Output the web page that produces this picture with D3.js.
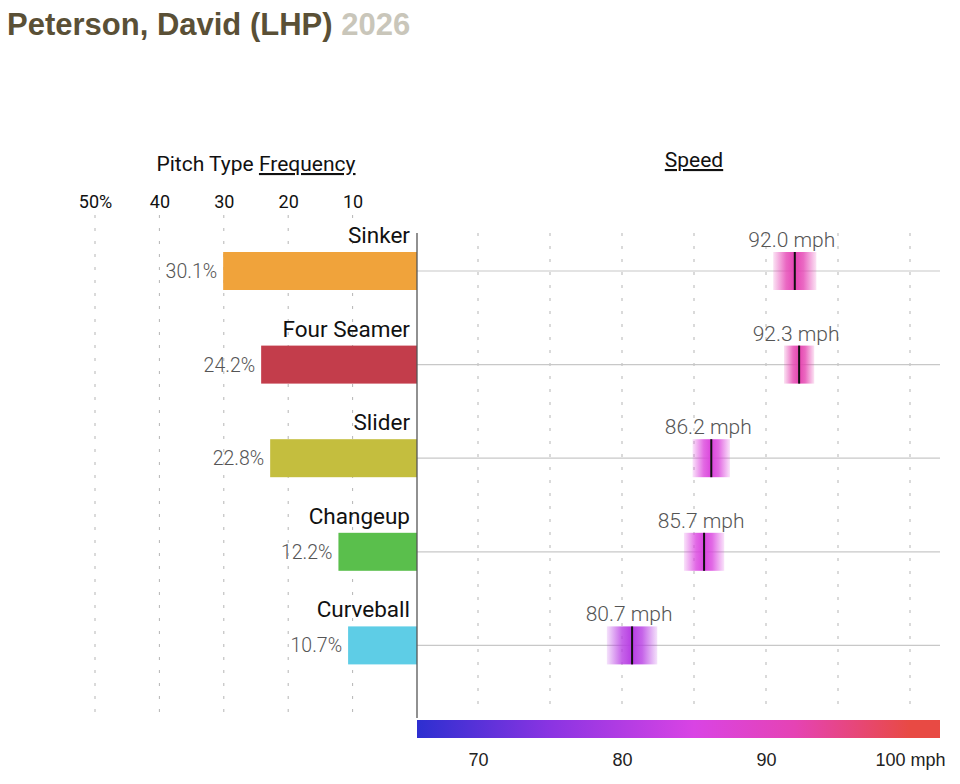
<!DOCTYPE html>
<html>
<head>
<meta charset="utf-8">
<script src="https://cdn.jsdelivr.net/npm/d3@7"></script>
<style>
  body { margin: 0; background: #fff; }
  svg { display: block; }
</style>
</head>
<body>
<svg width="960" height="784"></svg>
<script>
// data
var pitches = ["Sinker", "Four Seamer", "Slider", "Changeup", "Curveball"];
var frequency = [30.1, 24.2, 22.8, 12.2, 10.7];
var speed = [92.0, 92.3, 86.2, 85.7, 80.7];
var spread = [1.5, 1.05, 1.3, 1.4, 1.75]; // +/- mph of the shaded band
var barColors = ["#f0a33b", "#c33d4b", "#c4be3e", "#5abf4c", "#5ecde6"];
var freqTicks = [10, 20, 30, 40, 50];
var speedTicks = [70, 80, 90, 100];
var speedGrid = [70, 75, 80, 85, 90, 95, 100];

var svg = d3.select("svg");
var labelFont = "Roboto, 'Open Sans', sans-serif";

// title
var title = svg.append("text")
  .attr("x", 7)
  .attr("y", 35)
  .attr("font-family", "'Liberation Sans', Arial, sans-serif")
  .attr("font-weight", "bold")
  .attr("font-size", "31px");
title.append("tspan").attr("fill", "#5a5036").text("Peterson, David (LHP) ");
title.append("tspan").attr("fill", "#c9c6ba").text("2026");

// scales
var xFreq = d3.scaleLinear().domain([0, 50]).range([417, 95]);
var xSpeed = d3.scaleLinear().domain([70, 100]).range([478, 910]);
var speedMin = xSpeed.invert(417), speedMax = xSpeed.invert(940);
var y = d3.scaleBand().domain(pitches).range([214, 214 + 5 * 93.6]);
var colorScale = d3.scaleLinear()
  .domain([65, 75, 85, 92, 100])
  .range(["#2d2fd0", "#8a34e2", "#d944e4", "#e543b4", "#e84a44"]);

var rows = pitches.map(function(p, i) {
  return {name: p, freq: frequency[i], speed: speed[i], spread: spread[i], color: barColors[i]};
});

// headers
var h1 = svg.append("text")
  .attr("x", 256).attr("y", 171)
  .attr("text-anchor", "middle")
  .attr("font-family", labelFont)
  .attr("font-size", "21px")
  .attr("fill", "#111");
h1.append("tspan").text("Pitch Type ");
h1.append("tspan").attr("text-decoration", "underline").text("Frequency");

svg.append("text")
  .attr("x", 694).attr("y", 167)
  .attr("text-anchor", "middle")
  .attr("font-family", labelFont)
  .attr("font-size", "21px")
  .attr("fill", "#111")
  .attr("text-decoration", "underline")
  .text("Speed");

// dotted grid lines
svg.append("g").selectAll("line")
  .data(freqTicks)
  .enter().append("line")
  .attr("x1", function(d) { return xFreq(d); })
  .attr("x2", function(d) { return xFreq(d); })
  .attr("y1", 215).attr("y2", 716)
  .attr("stroke", "#b5b5b5")
  .attr("stroke-width", 1)
  .attr("stroke-dasharray", "3,10");

svg.append("g").selectAll("line")
  .data(speedGrid)
  .enter().append("line")
  .attr("x1", function(d) { return xSpeed(d); })
  .attr("x2", function(d) { return xSpeed(d); })
  .attr("y1", 233).attr("y2", 714)
  .attr("stroke", "#b5b5b5")
  .attr("stroke-width", 1)
  .attr("stroke-dasharray", "3,10");

// frequency axis (top)
var fAxis = svg.append("g")
  .attr("transform", "translate(0,208)")
  .call(d3.axisTop(xFreq).tickValues(freqTicks).tickSize(0).tickPadding(0)
    .tickFormat(function(d) { return d === 50 ? "50%" : d; }));
fAxis.select(".domain").remove();
fAxis.selectAll("text")
  .attr("font-family", labelFont)
  .attr("font-size", "18px")
  .attr("fill", "#111")
  .attr("dy", 0);

// row guide lines
svg.append("g").selectAll("line")
  .data(rows)
  .enter().append("line")
  .attr("x1", 417).attr("x2", 940)
  .attr("y1", function(d) { return y(d.name) + 57; })
  .attr("y2", function(d) { return y(d.name) + 57; })
  .attr("stroke", "#c8c8c8")
  .attr("stroke-width", 1.2);

// frequency bars
svg.append("g").selectAll("rect")
  .data(rows)
  .enter().append("rect")
  .attr("x", function(d) { return xFreq(d.freq); })
  .attr("y", function(d) { return y(d.name) + 38; })
  .attr("width", function(d) { return xFreq(0) - xFreq(d.freq); })
  .attr("height", 38)
  .attr("fill", function(d) { return d.color; });

// pitch names
svg.append("g").selectAll("text")
  .data(rows)
  .enter().append("text")
  .attr("x", 410)
  .attr("y", function(d) { return y(d.name) + 29; })
  .attr("text-anchor", "end")
  .attr("font-family", labelFont)
  .attr("font-size", "22.5px")
  .attr("fill", "#111")
  .text(function(d) { return d.name; });

// percent labels
svg.append("g").selectAll("text")
  .data(rows)
  .enter().append("text")
  .attr("x", function(d) { return xFreq(d.freq) - 6; })
  .attr("y", function(d) { return y(d.name) + 64; })
  .attr("text-anchor", "end")
  .attr("font-family", labelFont)
  .attr("font-weight", 300)
  .attr("font-size", "19.5px")
  .attr("fill", "#555")
  .text(function(d) { return d.freq.toFixed(1) + "%"; });

// zero axis line
svg.append("line")
  .attr("x1", 417).attr("x2", 417)
  .attr("y1", 233).attr("y2", 718)
  .attr("stroke", "#555")
  .attr("stroke-width", 1.3);

// speed markers with soft gradient bands
var defs = svg.append("defs");
rows.forEach(function(d, i) {
  var c = colorScale(d.speed);
  var g = defs.append("linearGradient").attr("id", "band" + i);
  [[0, 0.15], [0.3, 0.8], [0.5, 1], [0.7, 0.8], [1, 0.15]].forEach(function(s) {
    g.append("stop")
      .attr("offset", s[0] * 100 + "%")
      .attr("stop-color", c)
      .attr("stop-opacity", s[1]);
  });
});

var marks = svg.append("g").selectAll("g")
  .data(rows)
  .enter().append("g");

marks.append("rect")
  .attr("x", function(d) { return xSpeed(d.speed - d.spread); })
  .attr("y", function(d) { return y(d.name) + 38; })
  .attr("width", function(d) { return xSpeed(d.speed + d.spread) - xSpeed(d.speed - d.spread); })
  .attr("height", 38)
  .attr("fill", function(d, i) { return "url(#band" + i + ")"; });

marks.append("line")
  .attr("x1", function(d) { return xSpeed(d.speed); })
  .attr("x2", function(d) { return xSpeed(d.speed); })
  .attr("y1", function(d) { return y(d.name) + 38; })
  .attr("y2", function(d) { return y(d.name) + 76; })
  .attr("stroke", "#111")
  .attr("stroke-width", 2);

marks.append("text")
  .attr("x", function(d) { return xSpeed(d.speed) - 3; })
  .attr("y", function(d) { return y(d.name) + 33; })
  .attr("text-anchor", "middle")
  .attr("font-family", labelFont)
  .attr("font-weight", 300)
  .attr("font-size", "21px")
  .attr("fill", "#555")
  .text(function(d) { return d.speed.toFixed(1) + " mph"; });

// colour legend bar
var lg = defs.append("linearGradient")
  .attr("id", "legendGrad")
  .attr("gradientUnits", "userSpaceOnUse")
  .attr("x1", 417).attr("x2", 940).attr("y1", 0).attr("y2", 0);
colorScale.domain().forEach(function(v) {
  lg.append("stop")
    .attr("offset", (xSpeed(v) - 417) / (940 - 417) * 100 + "%")
    .attr("stop-color", colorScale(v));
});
svg.append("rect")
  .attr("x", xSpeed(speedMin))
  .attr("y", 720)
  .attr("width", xSpeed(speedMax) - xSpeed(speedMin))
  .attr("height", 18)
  .attr("fill", "url(#legendGrad)");

// speed axis (bottom)
var sAxis = svg.append("g")
  .attr("transform", "translate(0,753)")
  .call(d3.axisBottom(xSpeed).tickValues(speedTicks).tickSize(0).tickPadding(0)
    .tickFormat(function(d) { return d === 100 ? "100 mph" : d; }));
sAxis.select(".domain").remove();
sAxis.selectAll("text")
  .attr("font-family", "'Liberation Sans', Arial, sans-serif")
  .attr("font-size", "18px")
  .attr("fill", "#222");
</script>
</body>
</html>
